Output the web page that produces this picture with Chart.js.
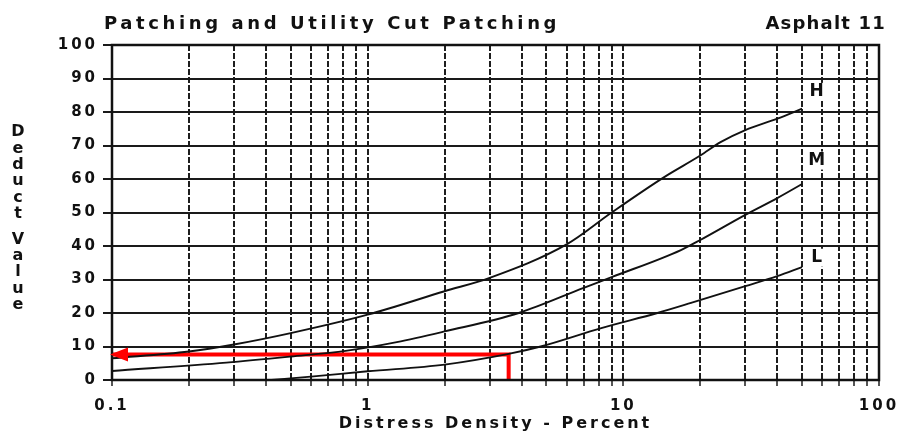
<!DOCTYPE html>
<html>
<head>
<meta charset="utf-8">
<script src="https://cdn.jsdelivr.net/npm/chart.js@4.4.0/dist/chart.umd.min.js"></script>
<style>
    html, body { margin: 0; padding: 0; background: #fff; }
    #wrap { width: 902px; height: 437px; }
</style>
</head>
<body>
<div id="wrap"><canvas id="myChart" width="902" height="437"></canvas></div>

<script>
    // values (distress density in %, deduct value)
    var densityH = [0.1, 0.2, 0.3, 0.5, 1, 2, 3, 6, 9, 14.4, 20, 24, 30, 40, 50];
    var deductH  = [6.5, 8.5, 10.6, 14, 19.5, 26.5, 30.5, 40.5, 50, 60.5, 67, 71, 74.6, 78, 81];

    var densityM = [0.1, 0.28, 0.5, 0.82, 1.3, 2, 3.9, 7, 9, 16.8, 20, 30, 40, 50];
    var deductM  = [2.7, 5.2, 7, 8.7, 11.3, 14.5, 20, 27.5, 30.7, 38.8, 41.8, 49.3, 54.3, 58.5];

    var densityL = [0.42, 0.6, 1, 2, 3.56, 4.75, 8.2, 13.6, 18.4, 30, 40, 50];
    var deductL  = [0, 1, 2.6, 4.6, 7.8, 10, 15.5, 20, 23, 28, 31, 33.7];

    // red reading line: up from 3.56 %, then across to the deduct axis
    var densityRed = [3.56, 3.56, 0.1];
    var deductRed  = [0, 7.6, 7.6];

    var curveNames = ['H', 'M', 'L'];
    var nameDensity = [57, 57, 57];
    var nameDeduct  = [86, 65.5, 36.5];

    var xGridValues = [0.1, 0.2, 0.3, 0.4, 0.5, 0.6, 0.7, 0.8, 0.9,
                       1, 2, 3, 4, 5, 6, 7, 8, 9,
                       10, 20, 30, 40, 50, 60, 70, 80, 90, 100];
    var xLabelValues = [0.1, 1, 10, 100];

    var chartTitle = 'Patching and Utility Cut Patching';
    var chartTag = 'Asphalt 11';
    var yTitle = 'Deduct Value';
    var xTitle = 'Distress Density - Percent';

    var FONT = '"DejaVu Sans", sans-serif';

    function toPoints(xs, ys) {
        var pts = [];
        for (var i = 0; i < xs.length; i++) {
            pts.push({ x: xs[i], y: ys[i] });
        }
        return pts;
    }

    function curve(label, xs, ys) {
        return {
            label: label,
            data: toPoints(xs, ys),
            borderColor: '#111',
            borderWidth: 1.9,
            pointRadius: 0,
            cubicInterpolationMode: 'monotone',
            fill: false
        };
    }

    var extrasPlugin = {
        id: 'extras',
        beforeDraw: function (chart) {
            // wide, spaced lettering like the scanned chart
            chart.ctx.letterSpacing = '3px';
        },
        afterDatasetsDraw: function (chart) {
            var ctx = chart.ctx;
            var xs = chart.scales.x, ys = chart.scales.y;
            var area = chart.chartArea;

            // frame
            ctx.save();
            ctx.strokeStyle = '#111';
            ctx.lineWidth = 2.5;
            ctx.strokeRect(area.left, area.top, area.right - area.left, area.bottom - area.top);
            ctx.restore();

            // arrow head on the red line
            var n = densityRed.length - 1;
            var tipX = xs.getPixelForValue(densityRed[n]);
            var tipY = ys.getPixelForValue(deductRed[n]);
            ctx.save();
            ctx.fillStyle = '#ff0000';
            ctx.beginPath();
            ctx.moveTo(tipX - 2, tipY);
            ctx.lineTo(tipX + 16, tipY - 7);
            ctx.lineTo(tipX + 16, tipY + 7);
            ctx.closePath();
            ctx.fill();
            ctx.restore();

            // curve names
            ctx.save();
            ctx.letterSpacing = '0px';
            ctx.font = 'bold 17px ' + FONT;
            ctx.textAlign = 'center';
            ctx.textBaseline = 'middle';
            for (var i = 0; i < curveNames.length; i++) {
                var px = xs.getPixelForValue(nameDensity[i]);
                var py = ys.getPixelForValue(nameDeduct[i]);
                ctx.fillStyle = '#fff';
                ctx.fillRect(px - 9, py - 9, 18, 18);
                ctx.fillStyle = '#111';
                ctx.fillText(curveNames[i], px, py);
            }
            ctx.restore();
        },
        afterDraw: function (chart) {
            var ctx = chart.ctx;
            ctx.save();
            ctx.fillStyle = '#111';
            ctx.font = 'bold 18px ' + FONT;
            ctx.letterSpacing = '3.6px';
            ctx.textBaseline = 'alphabetic';
            ctx.textAlign = 'left';
            ctx.fillText(chartTitle, 104, 29);
            ctx.letterSpacing = '1.2px';
            ctx.textAlign = 'right';
            ctx.fillText(chartTag, 886, 29);

            // stacked letters of the y title
            ctx.letterSpacing = '0px';
            ctx.font = 'bold 16px ' + FONT;
            ctx.textAlign = 'center';
            ctx.textBaseline = 'middle';
            var y = 132;
            for (var i = 0; i < yTitle.length; i++) {
                var ch = yTitle[i];
                if (ch === ' ') { y += 9; continue; }
                ctx.fillText(ch, 18, y);
                y += 16.4;
            }
            ctx.restore();
        }
    };

    var ctx = document.getElementById('myChart').getContext('2d');
    var chart = new Chart(ctx, {
        type: 'line',
        data: {
            datasets: [
                curve('H', densityH, deductH),
                curve('M', densityM, deductM),
                curve('L', densityL, deductL),
                {
                    label: 'reading',
                    data: toPoints(densityRed, deductRed),
                    borderColor: '#ff0000',
                    borderWidth: 4,
                    pointRadius: 0,
                    tension: 0,
                    fill: false
                }
            ]
        },
        options: {
            responsive: false,
            animation: false,
            layout: { padding: { top: 45, right: 23, left: 0, bottom: 0 } },
            plugins: {
                legend: { display: false },
                tooltip: { enabled: false },
                title: { display: false }
            },
            scales: {
                x: {
                    type: 'logarithmic',
                    min: 0.1,
                    max: 100,
                    afterBuildTicks: function (scale) {
                        scale.ticks = xGridValues.map(function (v) { return { value: v }; });
                    },
                    afterFit: function (scale) {
                        scale.height = 57;
                        scale.paddingLeft = 0;
                        scale.paddingRight = 0;
                    },
                    ticks: {
                        autoSkip: false,
                        maxRotation: 0,
                        padding: 11,
                        color: '#111',
                        font: { family: FONT, size: 15, weight: 'bold' },
                        callback: function (value) {
                            return xLabelValues.indexOf(value) >= 0 ? String(value) : '';
                        }
                    },
                    grid: {
                        color: '#1e1e1e',
                        lineWidth: 2,
                        tickLength: 6,
                        tickColor: '#555'
                    },
                    border: { display: false, dash: [6, 2] },
                    title: {
                        display: true,
                        text: xTitle,
                        color: '#111',
                        font: { family: FONT, size: 16, weight: 'bold' },
                        padding: { top: 0, bottom: 4 }
                    }
                },
                y: {
                    min: 0,
                    max: 100,
                    afterFit: function (scale) { scale.width = 112; },
                    ticks: {
                        stepSize: 10,
                        padding: 5,
                        color: '#111',
                        font: { family: FONT, size: 15, weight: 'bold' }
                    },
                    grid: {
                        color: '#1a1a1a',
                        lineWidth: 2,
                        tickLength: 9
                    },
                    border: { display: false }
                }
            }
        },
        plugins: [extrasPlugin]
    });
</script>
</body>
</html>
